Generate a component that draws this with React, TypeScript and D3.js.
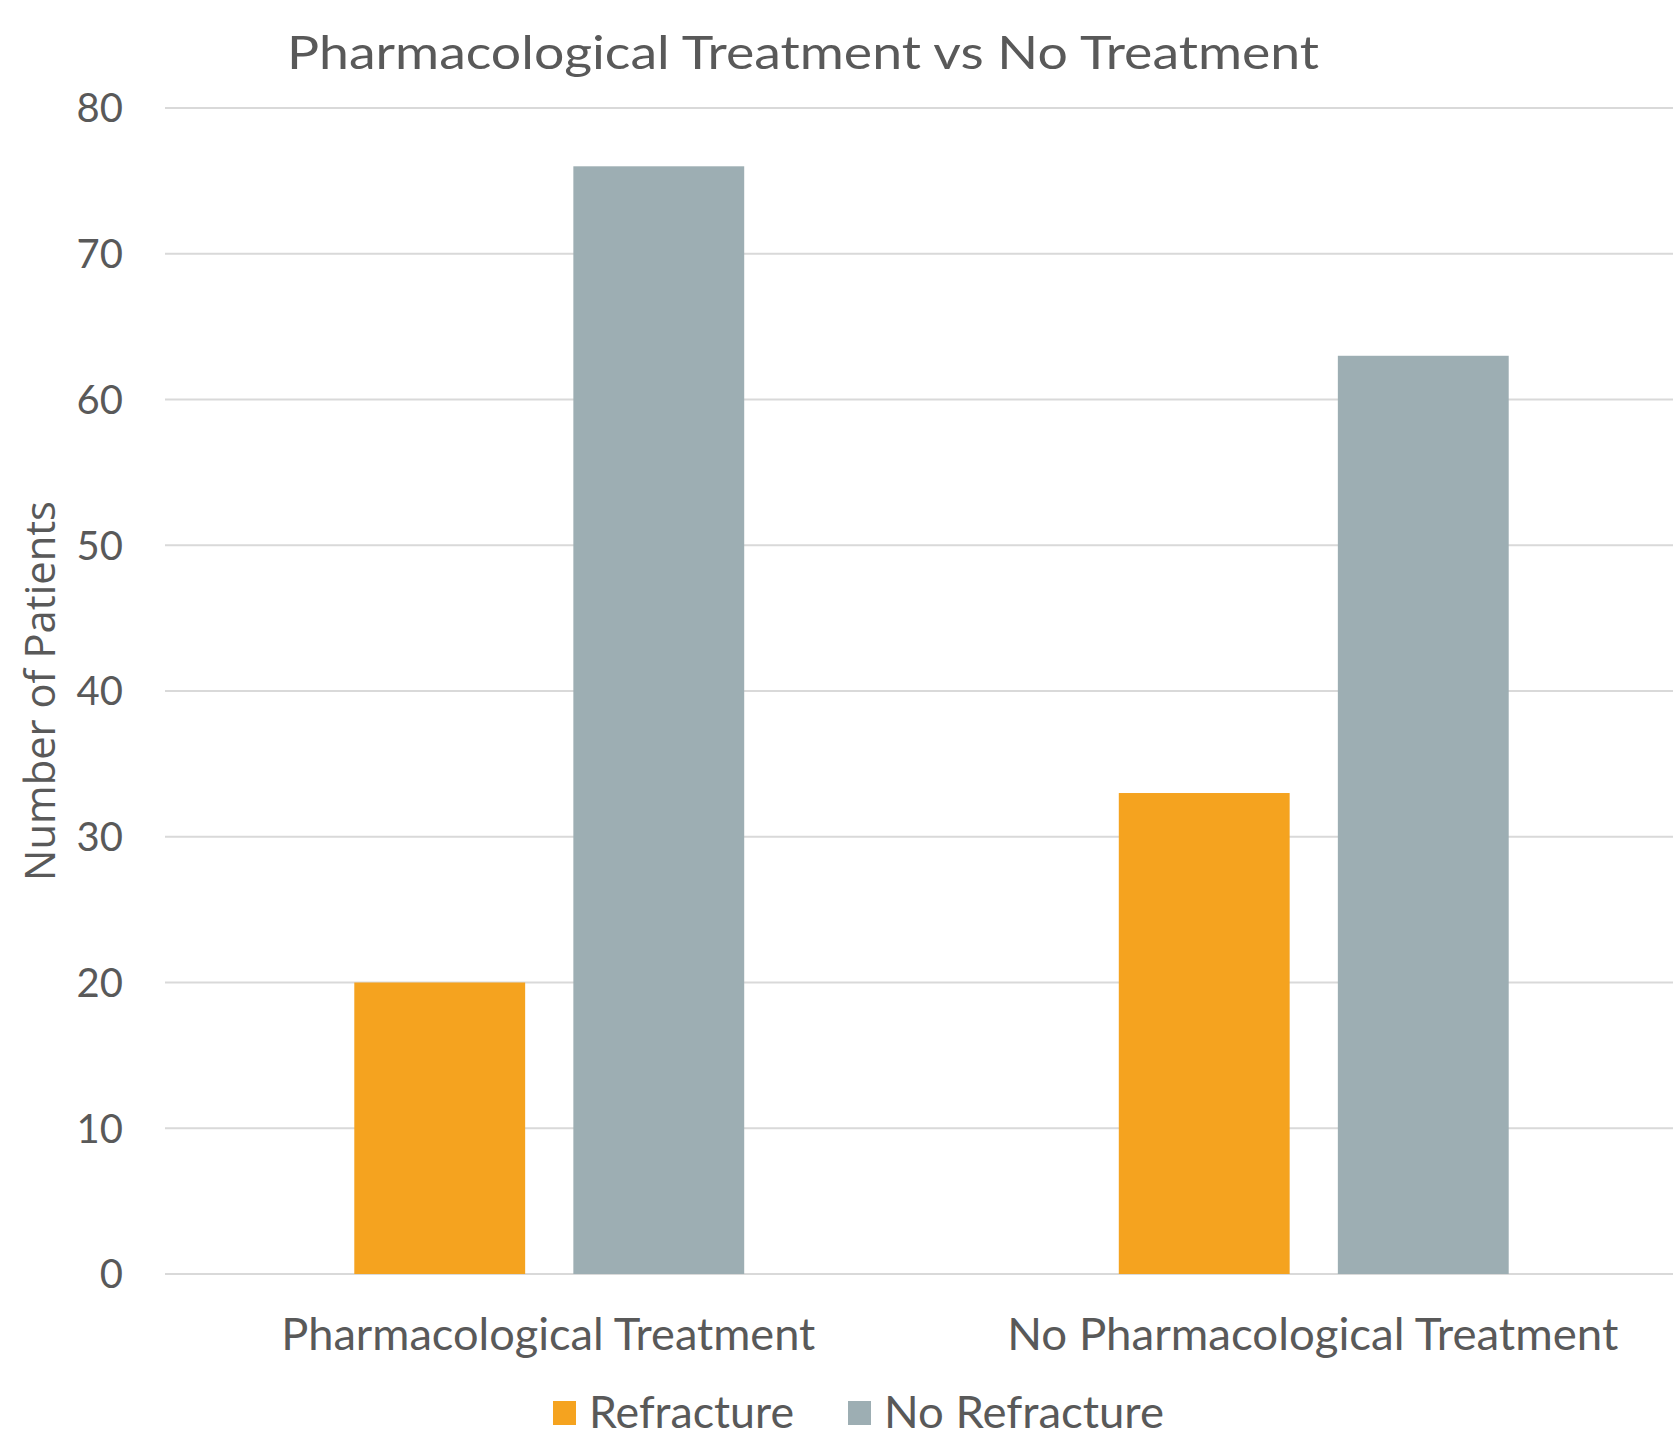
import React from "react";
import * as d3 from "d3";

const categories = ["Pharmacological Treatment", "No Pharmacological Treatment"];
const seriesNames = ["Refracture", "No Refracture"];
const refracture = [20, 33];
const noRefracture = [76, 63];
const yTicks = [0, 10, 20, 30, 40, 50, 60, 70, 80];
const colors = ["#F5A31F", "#9DAEB3"];

const W = 1673;
const H = 1430;
const TEXT = "#595959";
const FONT = "Lato, 'Open Sans', sans-serif";

export default function App() {
  const y = d3.scaleLinear().domain([0, 80]).range([1274, 108]);
  const x0 = d3.scaleBand<string>().domain(categories).range([167, 1696]).padding(0);
  const x1 = d3
    .scaleBand<string>()
    .domain(seriesNames)
    .range([0, x0.bandwidth()])
    .paddingInner(0.22)
    .paddingOuter(0.855);
  const values = [refracture, noRefracture];
  const catLabelLen = [534, 611];
  const legendX = [553, 848];
  const legendLen = [205, 280];

  return (
    <svg
      width={W}
      height={H}
      style={{ position: "absolute", left: 0, top: 0, background: "#fff" }}
      fontFamily={FONT}
    >
      <rect x={0} y={0} width={W} height={H} fill="#fff" />
      <text
        x={803}
        y={69}
        textAnchor="middle"
        fontSize={46}
        fill={TEXT}
        textLength={1032}
        lengthAdjust="spacingAndGlyphs"
      >
        Pharmacological Treatment vs No Treatment
      </text>
      {yTicks.map((t) => (
        <g key={t}>
          <line x1={165} x2={W} y1={y(t)} y2={y(t)} stroke="#D9D9D9" strokeWidth={2} />
          <text x={123} y={y(t)} dy="0.36em" textAnchor="end" fontSize={40} fill={TEXT}>
            {t}
          </text>
        </g>
      ))}
      {categories.map((c, ci) => (
        <g key={c} transform={`translate(${x0(c)},0)`}>
          {seriesNames.map((s, si) => (
            <rect
              key={s}
              x={x1(s)}
              y={y(values[si][ci])}
              width={x1.bandwidth()}
              height={y(0) - y(values[si][ci])}
              fill={colors[si]}
            />
          ))}
        </g>
      ))}
      {categories.map((c, ci) => (
        <text
          key={c}
          x={(x0(c) as number) + x0.bandwidth() / 2 - 1}
          y={1350}
          textAnchor="middle"
          fontSize={44}
          fill={TEXT}
          textLength={catLabelLen[ci]}
          lengthAdjust="spacingAndGlyphs"
        >
          {c}
        </text>
      ))}
      <text
        transform="translate(55,691) rotate(-90)"
        textAnchor="middle"
        fontSize={42}
        fontFamily="'Open Sans', sans-serif"
        fill={TEXT}
        textLength={380}
        lengthAdjust="spacingAndGlyphs"
      >
        Number of Patients
      </text>
      {seriesNames.map((s, si) => (
        <g key={s}>
          <rect x={legendX[si]} y={1401} width={23} height={24} fill={colors[si]} />
          <text
            x={legendX[si] + 36}
            y={1428}
            fontSize={45}
            fill={TEXT}
            textLength={legendLen[si]}
            lengthAdjust="spacingAndGlyphs"
          >
            {s}
          </text>
        </g>
      ))}
    </svg>
  );
}
